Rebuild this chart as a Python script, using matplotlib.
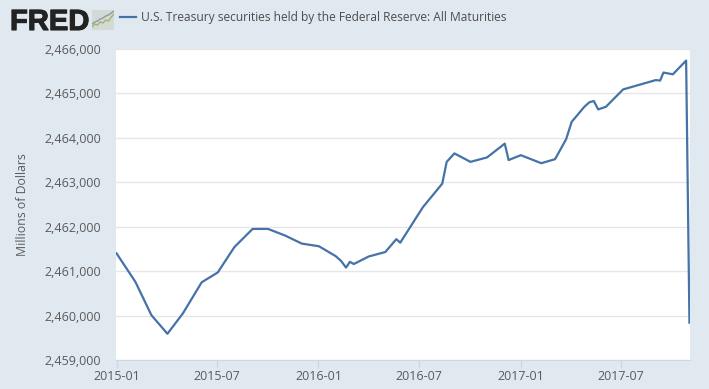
#!/usr/bin/env python3

# FRED chart: U.S. Treasury securities held by the Federal Reserve

from datetime import date

import matplotlib
matplotlib.use("Agg")
import matplotlib.dates as mdates
import matplotlib.patheffects as pe
import matplotlib.pyplot as plt
from matplotlib.ticker import FuncFormatter

plt.rcParams['font.family'] = ['Open Sans', 'DejaVu Sans']

SERIES_NAME = "U.S. Treasury securities held by the Federal Reserve: All Maturities"

dates = [
    "2015-01-01", "2015-02-04", "2015-03-05", "2015-04-03", "2015-05-01", "2015-06-04",
    "2015-07-03", "2015-08-02", "2015-09-04", "2015-10-02", "2015-11-02", "2015-12-02",
    "2016-01-02", "2016-02-01", "2016-02-11", "2016-02-20", "2016-02-27", "2016-03-05",
    "2016-04-01", "2016-05-01", "2016-05-21", "2016-05-28", "2016-07-08", "2016-08-12",
    "2016-08-20", "2016-09-03", "2016-10-02", "2016-11-01", "2016-12-03", "2016-12-10",
    "2017-01-01", "2017-02-07", "2017-03-04", "2017-03-24", "2017-04-03", "2017-04-26",
    "2017-05-05", "2017-05-13", "2017-05-21", "2017-06-04", "2017-07-05", "2017-09-02",
    "2017-09-10", "2017-09-16", "2017-10-03", "2017-10-27", "2017-11-02",
]
values = [
    2461400, 2460760, 2460010, 2459590, 2460050, 2460750,
    2460970, 2461540, 2461950, 2461950, 2461800, 2461620,
    2461560, 2461340, 2461230, 2461080, 2461210, 2461160,
    2461330, 2461430, 2461720, 2461640, 2462440, 2462970,
    2463460, 2463650, 2463460, 2463560, 2463870, 2463500,
    2463610, 2463430, 2463520, 2463970, 2464360, 2464700,
    2464800, 2464830, 2464640, 2464700, 2465090, 2465300,
    2465290, 2465470, 2465430, 2465740, 2459840,
]

x_ticks = ["2015-01-01", "2015-07-01", "2016-01-01", "2016-07-01", "2017-01-01", "2017-07-01"]
y_ticks = [2459000, 2460000, 2461000, 2462000, 2463000, 2464000, 2465000, 2466000]

# little chart in the logo
logo_x = [0, 1, 2, 3, 4, 5, 6, 7, 8]
logo_back = [3, 4, 4.5, 5.5, 6, 7, 7.5, 8.5, 9.5]
logo_front = [1.5, 3, 2.5, 4, 3.5, 5, 4.5, 6.5, 8]

BG = "#e1e9f0"
TEXT = "#5a5a5a"
LINE = "#4572a7"

W, H = 709, 389
fig = plt.figure(figsize=(W / 100, H / 100), dpi=100, facecolor=BG)
ax = fig.add_axes([116 / W, 1 - 360 / H, 574 / W, 311 / H])

x = [date.fromisoformat(d) for d in dates]
ax.plot(x, values, color=LINE, linewidth=1.6, label=SERIES_NAME, solid_joinstyle="round", zorder=3)

ax.set_xlim(date(2014, 12, 31), date(2017, 11, 3))
ax.set_ylim(2459000, 2466000)
ax.set_xticks([mdates.date2num(date.fromisoformat(d)) for d in x_ticks])
ax.xaxis.set_major_formatter(mdates.DateFormatter("%Y-%m"))
ax.set_yticks(y_ticks)
ax.yaxis.set_major_formatter(FuncFormatter(lambda v, _: f"{int(v):,}"))

ax.grid(axis="y", color="#e6e6e6", linewidth=1)
ax.set_axisbelow(True)
for side in ("top", "left", "right"):
    ax.spines[side].set_visible(False)
ax.spines["bottom"].set_color("#ccd6eb")
ax.tick_params(axis="x", length=6, width=1, color="#ccd6eb", labelcolor=TEXT, labelsize=9, pad=1)
ax.tick_params(axis="y", length=0, labelcolor=TEXT, labelsize=9, pad=10.5)

fig.text(22.7 / W, 1 - 204.5 / H, "Millions of Dollars", rotation=90, color=TEXT, fontsize=8.85,
         ha="center", va="center")

# legend with the series name next to the logo
fig.legend(loc="center left", bbox_to_anchor=(109 / W, 1 - 18 / H), frameon=False, fontsize=8.65,
           labelcolor="#4d4d4d", handlelength=1.35, handletextpad=0.4)

# FRED logo
logo = fig.text(10 / W, 1 - 30 / H, "FRED", family="Liberation Sans", weight="bold",
                fontsize=21, color="#222222", ha="left", va="baseline")
logo.set_path_effects([pe.withStroke(linewidth=0.8, foreground="#222222")])

icon = fig.add_axes([92 / W, 1 - 30 / H, 22 / W, 20 / H], facecolor="#d3dad6")
icon.plot(logo_x, logo_back, color="#8d9bab", linewidth=1)
icon.plot(logo_x, logo_front, color="#a3b36c", linewidth=1)
icon.set_xlim(0, 8)
icon.set_ylim(0, 10)
icon.set_xticks([])
icon.set_yticks([])
for side in icon.spines.values():
    side.set_visible(False)

fig.savefig("out.png", dpi=100, facecolor=BG)
